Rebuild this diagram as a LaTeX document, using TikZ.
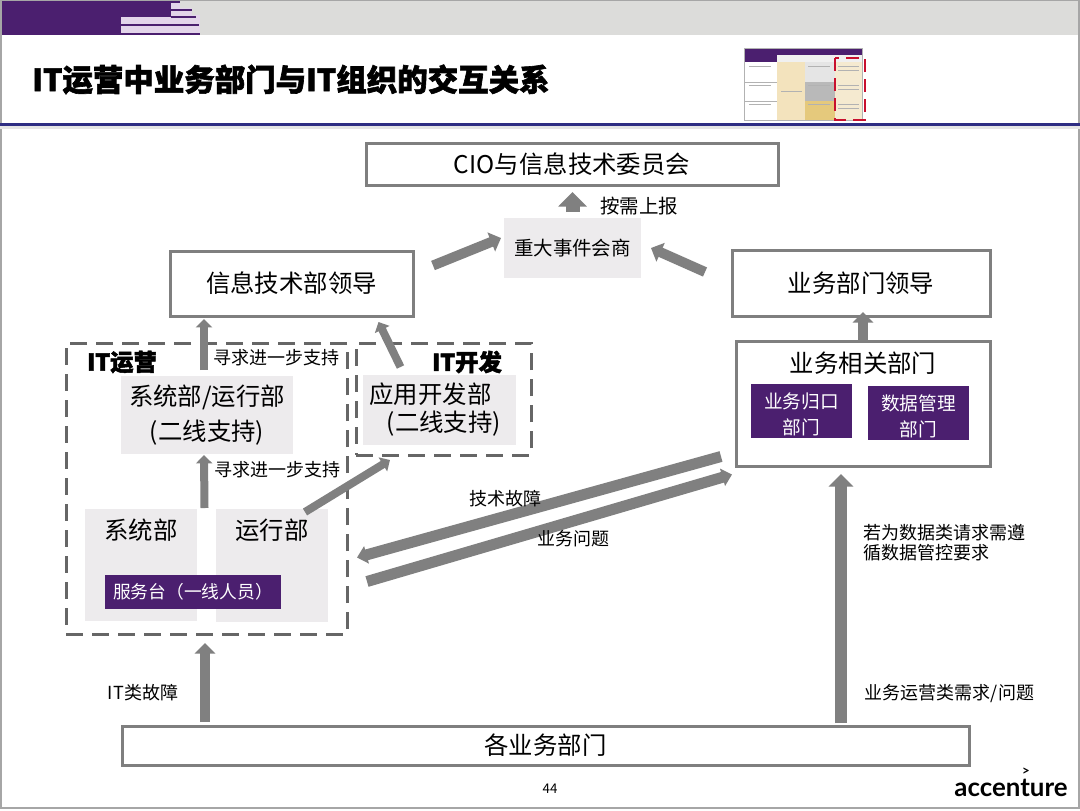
\documentclass[tikz,border=0pt]{standalone}
\usepackage{fontspec}
\setmainfont{Noto Sans CJK SC}[BoldFeatures={FakeBold=2}]
\newfontfamily\logofont{Lato}
\usetikzlibrary{arrows.meta,positioning,calc}
\definecolor{PurpleDark}{HTML}{4B1F6F}
\definecolor{PurpleLight}{HTML}{E3D5EA}
\definecolor{RuleBlue}{HTML}{2E2D83}
\definecolor{BandGray}{HTML}{DCDCDA}
\definecolor{PanelGray}{HTML}{EDEBED}
\definecolor{LineGray}{HTML}{7F7F7F}
\definecolor{DashGray}{HTML}{666666}
\definecolor{ArrowGray}{HTML}{808080}
\definecolor{ThumbRed}{HTML}{C8102E}
\definecolor{ThumbBeige}{HTML}{F3E3BD}
\definecolor{ThumbGold}{HTML}{E5C97C}
\definecolor{ThumbCream}{HTML}{F5EAD0}

\begin{document}
\begin{tikzpicture}[
  x=0.75pt, y=-0.75pt,
  outline/.style 2 args={draw=LineGray, line width=2.25pt, fill=white, inner sep=0pt, outer sep=0pt, minimum width=#1*0.75pt, minimum height=#2*0.75pt, align=center, font=\fontsize{18.3}{26}\selectfont},
  panel/.style 2 args={fill=PanelGray, inner sep=0pt, outer sep=0pt, minimum width=#1*0.75pt, minimum height=#2*0.75pt, align=center, font=\fontsize{18.3}{26}\selectfont},
  purplebox/.style 2 args={fill=PurpleDark, text=white, inner sep=0pt, outer sep=0pt, minimum width=#1*0.75pt, minimum height=#2*0.75pt, align=center, font=\fontsize{14}{19.5}\selectfont},
  groupbox/.style 2 args={draw=DashGray, line width=2.25pt, dash pattern=on 12.5pt off 7pt, inner sep=0pt, outer sep=0pt, minimum width=#1*0.75pt, minimum height=#2*0.75pt},
  bigtext/.style={inner sep=0pt, font=\fontsize{18.3}{26}\selectfont},
  smalllabel/.style={inner sep=0pt, font=\fontsize{13.5}{15}\selectfont},
  grouplabel/.style={inner sep=0pt, font=\bfseries\fontsize{17.5}{22}\selectfont},
  bigarrow/.style={draw=ArrowGray, line width=#1*0.75pt, -{Triangle[length=0pt 1.05, width=0pt 2]}},
  longarrow/.style={draw=ArrowGray, line width=#1*0.75pt, -{Triangle[length=0pt 0.9, width=0pt 1.6]}}
]
\useasboundingbox (0,0) rectangle (1080,810);

% page furniture
\fill[white] (0,0) rectangle (1080,810);
\fill[BandGray] (0,0) rectangle (1080,35);
\fill[PurpleLight] (121,1) rectangle (200,35);
\fill[BandGray] (180,1) rectangle (200,8);
\fill[BandGray] (192,8) rectangle (200,15);
\fill[PurpleDark] (0,1) rectangle (121,35);
\fill[PurpleDark] (121,1) rectangle (171,17);
\fill[PurpleDark] (171,1) rectangle (180,3);
\fill[PurpleDark] (171,9) rectangle (192,11);
\fill[PurpleDark] (171,16) rectangle (196,18);
\fill[PurpleDark] (121,24) rectangle (199,26);
\fill[PurpleDark] (121,33) rectangle (200,35);
\draw[gray!70, line width=1.5pt] (1,0) rectangle (1079,808);
\fill[gray!20] (0,126) rectangle (1080,129);
\fill[RuleBlue] (0,123) rectangle (1080,126);
\node[anchor=west, inner sep=0pt, font=\bfseries\fontsize{22.85}{28}\selectfont] (title) at (32,79.5) {IT运营中业务部门与IT组织的交互关系};
\node[inner sep=0pt, font=\fontsize{10}{12}\selectfont] (pageno) at (550,789) {44};
\node[inner sep=0pt, font=\logofont\bfseries\fontsize{19.4}{20}\selectfont] (logo) at (1011,788) {accenture};
\node[inner sep=0pt, font=\logofont\bfseries\fontsize{10}{10}\selectfont] (logomark) at (1026,772) {>};

% thumbnail
\fill[white] (744,48) rectangle (862,120);
\fill[PurpleDark] (744,48) rectangle (862,55);
\fill[PurpleDark] (744,55) rectangle (777,62);
\fill[gray!12] (777,55) rectangle (862,62);
\fill[ThumbBeige] (777,62) rectangle (805,120);
\fill[gray!20] (805,62) rectangle (835,82);
\fill[gray!55] (805,82) rectangle (835,101);
\fill[ThumbGold] (805,101) rectangle (835,120);
\fill[ThumbCream] (835,62) rectangle (862,120);
\draw[gray!60, line width=0.4pt] (744,48) rectangle (862,120) (744,82) -- (777,82) (744,101) -- (777,101);
\foreach \ypos in {66,85,104} {
  \draw[gray!60, line width=0.6pt] (749,\ypos) -- (771,\ypos);
  \draw[gray!60, line width=0.6pt] (808,\ypos) -- (830,\ypos);
  \draw[gray!60, line width=0.6pt] (838,\ypos) -- (859,\ypos);
  \draw[gray!60, line width=0.6pt] (838,\ypos+4) -- (859,\ypos+4);
}
\draw[gray!60, line width=0.6pt] (781,91) -- (802,91);
\draw[ThumbRed, line width=2.2pt, dash pattern=on 10pt off 5pt] (835,58) rectangle (865,120);

% top level
\node[outline={412}{42}] (cio) at (572,164) {CIO与信息技术委员会};
\node[panel={137}{60}, font=\fontsize{14.6}{20}\selectfont] (major) at (572.5,248) {重大事件会商};
\node[smalllabel, font=\fontsize{14.6}{20}\selectfont] (report) at (639,206) {按需上报};
\node[outline={243}{65}] (itlead) at (291.5,283.5) {信息技术部领导};
\node[outline={258}{66}] (bizlead) at (861,283) {业务部门领导};

% IT side
\node[groupbox={281}{291}] (itops) at (206.5,488.5) {};
\node[groupbox={175}{112}] (itdev) at (443.5,399) {};
\node[grouplabel] (itopslabel) at (122,362) {IT运营};
\node[grouplabel] (itdevlabel) at (467,362) {IT开发};
\node[panel={172}{78}] (opsup) at (207,415) {系统部/运行部\\(二线支持)};
\node[panel={153}{70}, align=left, font=\fontsize{18.3}{21}\selectfont] (devsup) at (439.5,410) {应用开发部\\\hspace*{13pt}(二线支持)\hspace*{6.5pt}};
\node[panel={112}{112}] (sys) at (141,565) {};
\node[panel={112}{113}] (ops) at (272,565.5) {};
\node[bigtext] (systext) at (141,530) {系统部};
\node[bigtext] (opstext) at (272,530) {运行部};
\node[purplebox={176}{34}, font=\fontsize{13.3}{18}\selectfont] (desk) at (193,592) {服务台（一线人员）};
\node[smalllabel] (ask1) at (276.5,358) {寻求进一步支持};
\node[smalllabel] (ask2) at (277.5,470) {寻求进一步支持};

% business side
\node[outline={254}{125}] (bizdept) at (863,403.5) {};
\node[bigtext] (bizdepttext) at (863,363) {业务相关部门};
\node[purplebox={101}{54}] (liaison) at (801.5,411) {\rule{0pt}{17.5pt}业务归口\\部门};
\node[purplebox={101}{54}] (datamgmt) at (918.5,413) {\rule{0pt}{17.5pt}数据管理\\部门};

% bottom
\node[outline={847}{39}] (allbiz) at (545.5,745.5) {各业务部门};

% connectors
\draw[bigarrow=14] ($(major.north)+(0,-6)$) -- ($(cio.south)+(0.5,7)$);
\draw[bigarrow=10] ($(itlead.east)+(20,-18)$) -- ($(major.west)+(-3,-10)$);
\draw[bigarrow=10] ($(bizlead.west)+(-27,-11)$) -- ($(major.east)+(10,0)$);
\draw[bigarrow=8] ($(opsup.north)+(-3,-6)$) -- ($(itlead.south)+(-87.5,3)$);
\draw[bigarrow=8] ($(devsup.north)+(-39,-8)$) -- ($(itlead.south)+(87,6)$);
\draw[bigarrow=8] ($(sys.north)+(63.5,-1)$) -- ($(opsup.south)+(-3,1)$);
\draw[bigarrow=8] ($(ops.north)+(33,3)$) -- ($(itdev.south)+(-53.5,5)$);
\draw[bigarrow=10] ($(bizdept.north)+(0,0)$) -- ($(bizlead.south)+(2,-4)$);
\draw[longarrow=11] ($(bizdept.west)+(-15,53)$) -- ($(itops.east)+(10,69)$);
\draw[longarrow=11] ($(itops.east)+(20,93)$) -- ($(bizdept.west)+(-4,71)$);
\draw[bigarrow=10] ($(allbiz.north)+(-340.5,-4)$) -- ($(itops.south)+(-1.5,9)$);
\draw[bigarrow=12] ($(allbiz.north)+(295.5,-3)$) -- ($(bizdept.south)+(-22,8)$);

% connector labels
\node[smalllabel] (fault) at (505,499) {技术故障};
\node[smalllabel] (bizissue) at (573,539) {业务问题};
\node[smalllabel] (itfault) at (143,693) {IT类故障};
\node[smalllabel, anchor=west, align=left] (datarule) at (863,543) {若为数据类请求需遵\\循数据管控要求};
\node[smalllabel] (bizneed) at (949.5,694) {业务运营类需求/问题};
\end{tikzpicture}
\end{document}
